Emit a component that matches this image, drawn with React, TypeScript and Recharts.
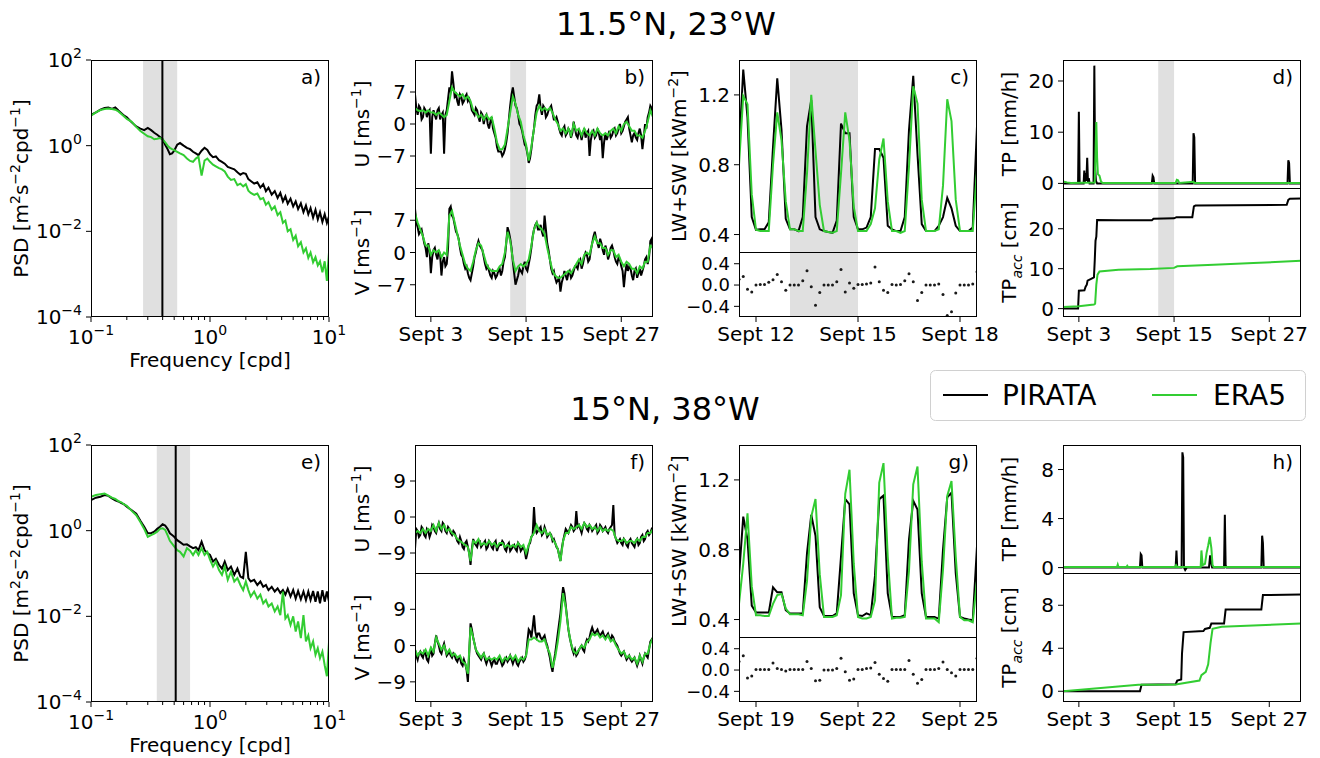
import React from 'react';
import { ComposedChart, Line, XAxis, YAxis, ReferenceArea, ReferenceLine } from 'recharts';

const FONT = 'DejaVu Sans, sans-serif';
const FS = 20;
const BLACK = '#000000';
const GREEN = '#32cd32';
const SHADE = '#e0e0e0';
const MINUS = '\u2212';

// ---------- PSD panels (a, e) ----------
const PSD_F = [0.1, 0.11, 0.12, 0.13, 0.14, 0.15, 0.16, 0.17, 0.18, 0.19, 0.2, 0.22, 0.24, 0.26, 0.28, 0.3, 0.32, 0.34, 0.36, 0.38, 0.4, 0.42, 0.44, 0.46, 0.48, 0.5, 0.53, 0.56, 0.6, 0.64, 0.68, 0.72, 0.76, 0.8, 0.85, 0.9, 0.95, 1.0, 1.06, 1.12, 1.19, 1.26, 1.33, 1.41, 1.5, 1.6, 1.7, 1.8, 1.9, 2.0, 2.1, 2.2, 2.35, 2.5, 2.65, 2.8, 2.95, 3.1, 3.3, 3.5, 3.7, 3.9, 4.1, 4.3, 4.5, 4.75, 5.0, 5.25, 5.5, 5.8, 6.1, 6.4, 6.7, 7.0, 7.35, 7.7, 8.05, 8.4, 8.8, 9.2, 9.6, 10.0];
const A_PSD_PIRATA = [5.25, 6.0, 6.9, 7.6, 7.8, 7.2, 7.8, 6.6, 5.75, 5.0, 4.6, 3.5, 2.8, 2.5, 2.3, 2.6, 2.3, 2.0, 1.8, 1.6, 1.4, 1.05, 0.83, 0.63, 0.66, 0.76, 1.05, 1.15, 1.0, 0.89, 0.83, 0.72, 0.66, 0.6, 0.76, 0.89, 0.79, 0.63, 0.54, 0.56, 0.46, 0.42, 0.38, 0.32, 0.3, 0.28, 0.24, 0.21, 0.23, 0.22, 0.166, 0.15, 0.13, 0.14, 0.105, 0.126, 0.087, 0.105, 0.072, 0.087, 0.06, 0.079, 0.05, 0.066, 0.044, 0.058, 0.038, 0.05, 0.033, 0.045, 0.028, 0.04, 0.025, 0.035, 0.021, 0.032, 0.019, 0.028, 0.0166, 0.025, 0.0158, 0.0224];
const A_PSD_ERA5 = [5.0, 6.0, 6.8, 7.2, 7.4, 7.2, 6.9, 6.3, 5.5, 4.8, 4.2, 3.6, 2.75, 2.2, 1.9, 1.66, 1.58, 1.41, 1.45, 1.51, 1.41, 1.2, 1.0, 0.89, 0.83, 0.79, 0.72, 0.66, 0.6, 0.5, 0.44, 0.42, 0.5, 0.55, 0.2, 0.45, 0.5, 0.42, 0.36, 0.33, 0.3, 0.28, 0.25, 0.19, 0.158, 0.166, 0.12, 0.13, 0.112, 0.126, 0.089, 0.079, 0.071, 0.076, 0.056, 0.06, 0.042, 0.048, 0.032, 0.038, 0.024, 0.028, 0.0158, 0.0178, 0.01, 0.0112, 0.0063, 0.0079, 0.0045, 0.0056, 0.0032, 0.004, 0.0024, 0.0032, 0.0019, 0.0025, 0.0016, 0.002, 0.0011, 0.002, 0.0007, 0.0032];
const E_PSD_PIRATA = [5.2, 5.9, 6.2, 6.8, 6.5, 5.7, 5.1, 4.8, 4.4, 4.1, 3.6, 3.0, 2.5, 1.7, 1.23, 0.87, 0.87, 0.95, 1.1, 1.23, 1.41, 1.32, 1.1, 0.87, 0.79, 0.72, 0.6, 0.54, 0.47, 0.48, 0.43, 0.39, 0.41, 0.35, 0.55, 0.35, 0.3, 0.27, 0.19, 0.22, 0.16, 0.13, 0.19, 0.12, 0.145, 0.093, 0.13, 0.085, 0.078, 0.32, 0.078, 0.065, 0.071, 0.054, 0.065, 0.049, 0.054, 0.041, 0.049, 0.038, 0.045, 0.035, 0.041, 0.032, 0.044, 0.029, 0.041, 0.026, 0.039, 0.025, 0.038, 0.024, 0.038, 0.024, 0.039, 0.022, 0.038, 0.02, 0.041, 0.022, 0.038, 0.022];
const E_PSD_ERA5 = [6.2, 6.8, 7.1, 7.4, 6.6, 5.9, 5.5, 4.9, 4.6, 4.1, 3.8, 2.9, 2.3, 1.6, 1.1, 0.72, 0.79, 0.85, 0.95, 1.1, 1.14, 1.04, 0.79, 0.58, 0.5, 0.43, 0.35, 0.32, 0.25, 0.39, 0.34, 0.27, 0.35, 0.27, 0.39, 0.27, 0.32, 0.21, 0.145, 0.19, 0.12, 0.093, 0.145, 0.071, 0.11, 0.065, 0.078, 0.054, 0.041, 0.065, 0.041, 0.029, 0.038, 0.026, 0.032, 0.02, 0.024, 0.017, 0.02, 0.013, 0.017, 0.0107, 0.038, 0.0089, 0.0107, 0.0063, 0.01, 0.0044, 0.0076, 0.0031, 0.0107, 0.0026, 0.0036, 0.0018, 0.0026, 0.00126, 0.0018, 0.00105, 0.0015, 0.00072, 0.0004, 0.0025];
const LOG_X_TICKS = [0.1, 0.2, 0.3, 0.4, 0.5, 0.6, 0.7, 0.8, 0.9, 1, 2, 3, 4, 5, 6, 7, 8, 9, 10];
const LOG_Y_TICKS = [0.0001, 0.01, 1, 100];

// ---------- wind panels (b, f): 8-hourly samples from Sept 1, PIRATA also has in-between samples ----------
const B_U_PIRATA = [6.5, 2.0, 3.5, 1.5, 3.0, 2.5, -6.5, 3.0, 1.0, 3.5, 2.0, -6.5, 3.0, 8.0, 11.5, 6.0, 5.0, 6.5, 4.5, 6.0, 5.0, 4.5, 2.5, 3.5, 1.5, 2.5, 0.0, 2.0, -1.0, 1.5, -2.0, -5.0, -6.0, -7.0, -5.5, -2.0, 4.0, 8.0, 4.0, 2.0, -0.5, -3.0, -5.0, -8.5, -5.5, -1.0, 4.0, 6.5, 2.0, 3.5, 2.0, 3.5, 2.5, 1.0, 0.5, -2.0, -1.0, -2.5, -1.0, -3.0, 0.5, -2.5, -1.5, -3.5, -1.0, -2.0, -7.0, -2.0, -3.0, -1.0, -3.5, -7.5, -2.0, -2.5, -3.0, -1.5, -2.5, -1.0, -2.0, -0.5, 1.0, -1.0, -4.0, -2.0, -3.5, -1.0, -5.5, 0.0, 1.5, 4.0, 2.0];
const B_U_PIRATA_MID = [3.5, 4.0, 1.0, 3.5, 1.5, 3.0, 1.5, 2.0, 3.0, 1.0, 2.5, 2.0, 5.5, 7.0, 9.0, 6.5, 4.0, 6.0, 5.0, 6.5, 5.5, 3.0, 2.0, 3.0, 0.5, 2.0, 1.5, 0.0, 0.5, -1.0, -3.0, -6.0, -6.0, -6.5, -4.0, 1.0, 6.5, 6.0, 3.5, 0.0, -1.5, -4.5, -6.5, -7.5, -3.0, 2.0, 4.5, 3.5, 4.0, 1.5, 3.0, 4.0, 1.0, 1.5, -1.0, -2.5, -0.5, -2.0, -1.5, -2.0, -1.0, -3.0, -2.0, -2.0, -3.0, -1.5, -3.5, -1.5, -2.5, -2.0, -2.5, -4.0, -3.5, -1.5, -2.5, -1.0, -2.0, 0.0, -1.5, 0.5, 1.5, -2.5, -2.5, -3.0, -2.0, -2.5, -3.0, -1.0, 2.5, 3.5];
const B_U_ERA5 = [3.5, 3.0, 2.8, 3.0, 2.5, 3.0, 2.5, 2.5, 2.0, 2.5, 2.0, 1.5, 2.0, 5.0, 8.0, 7.0, 6.5, 6.0, 6.5, 5.5, 6.0, 5.0, 3.0, 2.5, 1.5, 2.0, 1.0, 2.0, 1.0, 1.5, -1.0, -4.0, -5.5, -5.5, -4.5, -1.0, 2.5, 6.0, 4.5, 2.0, 0.5, -2.5, -4.5, -8.0, -5.0, -1.0, 2.5, 4.0, 3.0, 3.5, 3.0, 3.5, 2.5, 1.0, 0.0, -1.5, -1.0, -2.0, -1.0, -2.5, 0.0, -1.5, -1.0, -2.5, -1.0, -2.0, -2.5, -1.5, -2.5, -1.0, -2.0, -2.5, -2.0, -2.5, -1.5, -1.0, -2.0, -0.5, -1.5, 0.0, 0.5, -0.5, -1.5, -1.5, -2.5, -2.5, -3.0, -1.5, 0.5, 3.0, 1.5];
const B_V_PIRATA = [9.5, 5.5, 4.5, 3.5, 1.0, 2.0, -4.5, 0.5, -0.5, 0.5, -5.0, -1.0, -2.5, 9.5, 8.0, 6.0, 4.0, 1.0, -1.0, -3.5, -4.5, -6.0, -3.0, 0.0, 2.5, 1.0, -1.0, -3.5, -4.0, -5.5, -4.5, -5.0, -3.5, -4.0, -1.0, 5.5, 3.0, -2.0, -7.0, -5.0, -4.0, -3.0, -3.5, -2.5, 1.0, 5.0, 6.5, 5.0, 4.5, 8.0, 2.0, -1.5, -4.5, -5.5, -6.0, -8.5, -5.5, -5.0, -4.5, -5.5, -4.0, -3.0, -2.0, -3.5, -1.0, -0.5, -1.5, 2.0, 4.5, 2.0, 3.0, 0.5, 1.5, -1.5, 1.0, 0.5, -2.0, -1.0, -3.0, -7.5, -2.5, -3.0, -5.0, -4.0, -5.5, -3.5, -4.0, -1.5, -2.5, 2.5, 0.5];
const B_V_PIRATA_MID = [6.5, 4.0, 5.0, 2.0, -1.0, 0.5, -1.0, 1.0, -1.5, -0.5, -2.0, -3.0, 1.0, 10.0, 7.5, 4.5, 3.0, -0.5, -2.5, -3.0, -5.5, -4.5, -1.0, 1.5, 1.5, 0.5, -2.5, -3.0, -5.0, -4.0, -5.5, -4.0, -5.0, -2.0, 2.0, 4.5, 1.0, -4.5, -6.0, -3.5, -4.5, -2.0, -4.0, -1.0, 3.5, 6.0, 5.0, 6.0, 3.5, 5.0, 0.5, -3.5, -4.0, -6.5, -5.5, -6.5, -4.0, -6.0, -4.0, -5.0, -3.0, -3.5, -1.5, -2.5, 0.0, -2.0, 0.5, 3.5, 3.0, 1.0, 2.0, -0.5, 0.5, -0.5, 1.5, -1.0, -2.5, -1.5, -4.0, -4.5, -4.0, -3.5, -6.0, -3.5, -4.5, -5.0, -3.0, -1.0, -1.0, 3.0];
const B_V_ERA5 = [8.5, 6.5, 5.0, 3.5, 1.5, 1.5, -0.5, 0.5, 0.0, 0.5, -1.0, 0.0, -0.5, 8.0, 9.0, 6.5, 4.0, 1.5, -0.5, -2.5, -3.5, -4.0, -2.0, 0.5, 2.0, 1.5, -0.5, -2.5, -3.5, -4.0, -4.0, -4.0, -3.0, -2.5, 0.0, 4.5, 2.5, -1.5, -4.0, -3.0, -2.5, -3.0, -2.5, -1.5, 1.5, 5.0, 6.5, 5.5, 5.0, 4.0, 1.0, -1.5, -4.0, -5.0, -5.5, -5.5, -5.0, -4.5, -4.0, -4.5, -3.5, -2.5, -1.5, -2.5, -0.5, 0.0, -0.5, 2.0, 3.5, 2.0, 2.0, 1.0, 1.0, -0.5, 0.5, 0.5, -1.0, -0.5, -2.0, -3.0, -2.0, -2.5, -3.5, -3.5, -4.5, -3.0, -3.5, -2.0, -2.0, 1.5, 1.0];
const F_U_PIRATA = [-8.0, -3.5, -4.5, -3.0, -5.0, -3.5, -4.0, -2.5, -4.0, -1.5, -3.5, -2.0, -4.0, -3.0, -4.5, -4.0, -6.0, -5.0, -7.5, -6.5, -7.5, -12.0, -5.5, -7.0, -6.0, -7.5, -6.5, -8.0, -6.0, -7.5, -6.5, -8.5, -7.0, -6.0, -8.0, -7.0, -8.5, -7.5, -8.0, -6.5, -8.5, -7.5, -10.5, -7.0, -5.0, 2.5, -4.0, -3.0, -4.5, -2.5, -5.0, -4.0, -6.0, -6.5, -8.0, -11.0, -6.0, -3.0, -4.0, -2.0, -3.5, 1.5, -2.0, -4.0, -1.5, -3.0, -2.0, -3.5, -2.5, -4.0, -2.0, -3.5, -2.5, -4.0, -2.5, 3.0, -5.5, -6.0, -6.5, -5.5, -7.0, -6.0, -6.5, -7.5, -5.5, -6.5, -4.5, -5.5, -3.5, -4.0, -2.5];
const F_U_PIRATA_MID = [-3.0, -5.0, -2.5, -4.5, -3.0, -5.0, -2.0, -3.5, -2.5, -3.0, -1.5, -3.5, -2.5, -4.0, -3.5, -5.0, -6.5, -6.0, -8.0, -6.0, -9.0, -8.0, -6.5, -7.5, -6.0, -7.0, -6.0, -7.5, -6.5, -8.0, -6.0, -7.5, -7.0, -6.5, -8.5, -6.5, -8.0, -7.0, -8.5, -7.0, -8.0, -8.5, -9.0, -6.5, -4.5, -3.0, -3.5, -2.5, -4.0, -3.5, -4.5, -4.5, -5.5, -7.5, -9.5, -8.0, -4.5, -3.5, -3.0, -2.5, -3.0, -2.5, -3.0, -2.5, -2.0, -3.5, -2.5, -3.0, -2.0, -3.5, -2.5, -3.0, -3.5, -3.0, -2.0, -4.5, -6.5, -5.5, -7.0, -6.0, -7.5, -5.5, -7.0, -6.0, -7.0, -5.0, -6.0, -4.0, -4.5, -3.0];
const F_U_ERA5 = [-4.0, -3.5, -4.0, -3.0, -4.0, -3.0, -3.5, -2.0, -3.5, -1.5, -3.0, -2.0, -3.5, -3.0, -4.0, -4.5, -5.5, -6.0, -6.5, -7.0, -7.5, -11.0, -6.0, -6.5, -5.5, -7.0, -6.5, -7.0, -6.0, -7.0, -6.5, -7.5, -6.5, -6.5, -7.5, -7.0, -7.5, -7.0, -7.5, -6.5, -7.5, -7.0, -9.0, -7.0, -5.0, -4.0, -2.0, -3.5, -4.0, -3.0, -4.5, -4.0, -5.5, -6.5, -8.0, -11.0, -6.0, -4.0, -4.0, -2.5, -3.0, -2.5, -2.0, -3.0, -1.5, -2.5, -2.0, -3.0, -2.5, -3.5, -2.5, -3.5, -3.0, -3.5, -3.0, -3.5, -5.5, -6.0, -6.0, -5.5, -6.5, -6.0, -6.0, -6.5, -5.5, -6.0, -5.0, -5.0, -4.0, -4.0, -3.0];
const F_V_PIRATA = [-1.0, -3.5, -1.5, -3.0, -2.0, -4.0, -1.0, -2.0, 2.5, 0.0, -2.0, 0.5, -2.5, -1.5, -3.0, -2.5, -4.0, -3.0, -5.0, -4.5, -9.0, 5.5, 2.0, -1.0, -2.5, -3.5, -2.0, -4.5, -3.0, -5.0, -3.5, -4.5, -3.0, -5.0, -3.5, -4.0, -2.5, -4.5, -3.0, -5.0, -3.5, -4.0, -2.5, 4.0, 2.0, 7.5, 2.0, 3.0, 1.5, 2.5, 0.0, -3.0, -6.5, -2.0, 3.0, 8.0, 14.5, 10.0, 4.0, 0.5, -2.0, -2.5, -1.0, 0.0, -1.5, 1.5, 2.0, 4.5, 3.0, 4.0, 2.5, 3.5, 2.0, 3.0, 1.5, 2.0, 0.5, -1.0, -2.5, -1.5, -3.5, -2.5, -4.0, -3.0, -5.0, -2.5, -4.5, -2.0, -3.0, 1.0, 2.0];
const F_V_PIRATA_MID = [-2.5, -2.0, -2.5, -1.5, -3.5, -2.0, -2.5, 0.5, 1.0, -1.5, -0.5, -1.0, -2.0, -2.5, -2.0, -3.5, -3.0, -4.5, -3.5, -6.0, -2.0, 4.0, 0.5, -2.0, -3.0, -2.5, -3.5, -3.5, -4.0, -4.0, -4.5, -3.5, -4.0, -4.5, -3.0, -3.5, -3.5, -3.5, -4.5, -4.0, -3.0, -3.5, 1.0, 3.5, 4.5, 3.5, 3.0, 2.0, 2.0, 1.0, -1.5, -5.0, -4.0, 0.5, 5.5, 11.5, 13.0, 7.0, 2.0, -1.0, -1.0, -2.0, -0.5, -1.0, 0.5, 1.0, 3.5, 3.5, 3.5, 3.0, 3.0, 2.5, 2.5, 2.0, 2.5, 1.0, 0.0, -2.0, -2.0, -2.5, -3.0, -3.5, -3.5, -4.0, -4.0, -3.5, -3.0, -2.5, -1.0, 1.5];
const F_V_ERA5 = [-1.0, -2.5, -1.5, -2.0, -1.0, -2.5, -0.5, -1.5, 2.0, 0.5, -1.0, 0.0, -2.0, -1.0, -2.5, -2.0, -3.0, -2.5, -4.0, -4.5, -7.0, 4.5, 2.0, -1.0, -2.0, -3.0, -2.0, -3.5, -3.0, -3.5, -3.0, -3.5, -2.5, -4.0, -3.0, -3.5, -2.5, -3.5, -2.5, -4.0, -3.0, -3.5, -2.5, 1.5, 1.5, 2.0, 1.5, 1.0, 1.0, 1.5, -0.5, -2.0, -5.5, -3.0, 1.0, 6.0, 13.0, 9.5, 4.0, 0.5, -1.5, -2.0, -1.0, 0.0, -0.5, 1.0, 1.5, 3.0, 2.5, 3.0, 2.0, 2.5, 1.5, 2.5, 1.0, 1.5, 0.0, -1.0, -2.0, -1.5, -3.0, -2.5, -3.5, -3.0, -4.5, -2.5, -4.0, -2.0, -2.0, 0.5, 2.0];

// ---------- radiation panels (c, g): 3-hourly samples ----------
const C_PIRATA = [0.88, 1.345, 1.07, 0.5, 0.427, 0.43, 0.43, 0.47, 0.9, 1.295, 1.0, 0.49, 0.43, 0.43, 0.42, 0.5, 1.02, 1.17, 0.5, 0.43, 0.42, 0.415, 0.41, 0.48, 1.036, 0.98, 0.98, 0.5, 0.43, 0.43, 0.44, 0.5, 0.89, 0.89, 0.84, 0.45, 0.43, 0.42, 0.42, 0.5, 1.0, 1.31, 0.86, 0.46, 0.42, 0.42, 0.42, 0.45, 0.5, 0.61, 0.55, 0.45, 0.42, 0.42, 0.42, 0.44, 1.02];
const C_ERA5 = [0.8, 1.194, 1.147, 0.63, 0.427, 0.42, 0.42, 0.42, 0.8, 1.1, 0.94, 0.59, 0.43, 0.43, 0.42, 0.42, 0.75, 1.2, 0.88, 0.57, 0.42, 0.415, 0.41, 0.42, 0.75, 1.1, 0.94, 0.56, 0.42, 0.42, 0.42, 0.46, 0.55, 0.83, 0.95, 0.59, 0.42, 0.42, 0.41, 0.42, 0.79, 1.25, 1.15, 0.6, 0.42, 0.42, 0.42, 0.43, 0.68, 1.175, 1.05, 0.6, 0.42, 0.42, 0.42, 0.42, 0.77];
const C_DIFF = [0.11, 0.16, -0.08, -0.13, 0, 0.01, 0.01, 0.05, 0.1, 0.2, 0.06, -0.1, 0, 0, 0, 0.08, 0.27, -0.03, -0.38, -0.14, 0, 0, 0, 0.06, 0.29, -0.13, 0.04, -0.06, 0.01, 0.01, 0.02, 0.04, 0.34, 0.06, -0.1, -0.14, 0.01, 0, 0.01, 0.08, 0.21, 0.06, -0.29, -0.14, 0, 0, 0, 0.02, -0.18, -0.57, -0.5, -0.15, 0, 0, 0, 0.02, 0.25];
const G_PIRATA = [0.65, 0.99, 0.86, 0.48, 0.44, 0.44, 0.44, 0.44, 0.585, 0.556, 0.556, 0.454, 0.435, 0.435, 0.435, 0.435, 0.78, 1.0, 0.88, 0.47, 0.42, 0.42, 0.42, 0.435, 0.76, 1.09, 1.06, 0.55, 0.425, 0.42, 0.435, 0.425, 0.65, 1.09, 1.11, 0.55, 0.415, 0.415, 0.415, 0.425, 0.86, 1.08, 1.03, 0.55, 0.415, 0.415, 0.415, 0.404, 0.8, 1.1, 1.127, 0.665, 0.415, 0.406, 0.4, 0.396, 0.82];
const G_ERA5 = [0.49, 0.72, 1.008, 0.59, 0.425, 0.425, 0.42, 0.42, 0.49, 0.54, 0.546, 0.463, 0.43, 0.43, 0.43, 0.425, 0.62, 0.99, 1.09, 0.66, 0.415, 0.415, 0.415, 0.425, 0.54, 1.12, 1.258, 0.72, 0.415, 0.406, 0.406, 0.415, 0.51, 1.185, 1.296, 0.76, 0.406, 0.41, 0.41, 0.415, 0.68, 1.175, 1.277, 0.73, 0.406, 0.406, 0.406, 0.385, 0.685, 1.108, 1.194, 0.76, 0.415, 0.396, 0.396, 0.385, 0.627];
const G_DIFF = [0.16, 0.27, -0.15, -0.11, 0.01, 0.01, 0.01, 0.01, 0.13, 0.03, 0.01, -0.02, 0.01, 0.01, 0.01, 0.01, 0.16, 0.03, -0.2, -0.19, 0, 0, 0, 0.03, 0.22, -0.03, -0.19, -0.17, 0.01, 0.01, 0.03, 0.04, 0.14, -0.08, -0.16, -0.21, 0.01, 0.01, 0.01, 0.01, 0.18, -0.08, -0.25, -0.18, 0.01, 0.01, 0.01, 0.03, 0.15, 0.01, -0.05, -0.11, 0.01, 0.01, 0.01, 0.01, 0.22];

// ---------- precipitation panels (d, h) ----------
const D_TP_PIRATA_T = [1, 2.9, 3.0, 3.1, 3.6, 3.68, 3.75, 3.85, 3.95, 4.05, 4.15, 4.25, 4.35, 4.85, 4.95, 5.05, 5.15, 5.3, 12.2, 12.3, 12.4, 12.5, 17.35, 17.45, 17.55, 17.65, 29.3, 29.4, 29.5, 29.6, 31];
const D_TP_PIRATA = [0, 0, 14, 0, 0, 2.5, 0.3, 2, 0.5, 5, 0.3, 1, 0, 0, 23, 3, 0.5, 0, 0, 1.5, 1.2, 0, 0, 9.8, 9, 0, 0, 4.5, 4, 0, 0];
const D_TP_ERA5_T = [1, 1.5, 2, 5.0, 5.1, 5.2, 5.3, 5.4, 5.6, 5.8, 6.0, 15.2, 15.35, 15.5, 15.65, 17.45, 17.55, 17.65, 31];
const D_TP_ERA5 = [0.4, 0.2, 0.1, 0.15, 6, 12, 5, 1.8, 1.5, 0.3, 0.1, 0.1, 0.7, 0.6, 0.1, 0.3, 0.1, 0.1, 0.1];
const D_ACC_PIRATA_T = [1, 2.9, 3.0, 3.7, 3.85, 4.0, 4.1, 4.6, 4.9, 5.0, 5.1, 5.2, 5.3, 8, 12.2, 12.4, 15.0, 15.3, 17.3, 17.5, 17.7, 29.2, 29.4, 29.6, 31];
const D_ACC_PIRATA = [0, 0, 4.5, 4.6, 5.5, 6.0, 7.0, 7.5, 7.8, 12, 17, 18, 22.2, 22.1, 22.1, 22.5, 22.6, 22.9, 22.9, 25.6, 25.8, 26.0, 27.2, 27.5, 27.6];
const D_ACC_ERA5_T = [1, 3, 4.9, 5.05, 5.2, 5.35, 5.6, 8, 12, 15.0, 15.4, 20, 25, 31];
const D_ACC_ERA5 = [0.4, 0.6, 1.0, 1.2, 6.0, 8.5, 9.3, 9.7, 9.9, 10.2, 10.6, 11.0, 11.4, 12.0];
const H_TP_PIRATA_T = [1, 10.7, 10.8, 10.9, 11.0, 15.2, 15.3, 15.4, 15.95, 16.05, 16.15, 16.25, 16.4, 16.6, 19.4, 19.55, 19.7, 19.8, 21.3, 21.4, 21.5, 21.6, 26.0, 26.1, 26.2, 26.3, 31];
const H_TP_PIRATA = [0, 0, 1.1, 1.0, 0, 0, 1.4, 0, 0, 9.4, 9.0, 0, -0.2, 0, 0, 1.0, 0.3, 0, 0, 4.3, 0.2, 0, 0, 2.6, 2.0, 0, 0];
const H_TP_ERA5_T = [1, 7.8, 7.9, 8.0, 9.0, 9.1, 9.2, 15.1, 15.25, 15.4, 18.35, 18.45, 18.6, 18.9, 19.1, 19.3, 19.5, 19.7, 19.85, 20.0, 31];
const H_TP_ERA5 = [0.05, 0.05, 0.25, 0.05, 0.05, 0.15, 0.05, 0.05, 0.2, 0.05, 0.05, 1.4, 0.2, 0.3, 1.2, 1.8, 2.5, 1.6, 0.2, 0.05, 0.05];
const H_ACC_PIRATA_T = [1, 10.7, 10.9, 15.2, 15.4, 15.9, 16.0, 16.2, 18.7, 18.9, 19.5, 19.7, 21.3, 21.5, 26.0, 26.2, 31];
const H_ACC_PIRATA = [0, 0, 0.6, 0.65, 1.0, 1.1, 3.5, 5.5, 5.6, 5.8, 5.9, 6.3, 6.3, 7.6, 7.6, 8.95, 9.0];
const H_ACC_ERA5_T = [1, 10.5, 15.2, 18.2, 18.45, 19.0, 19.3, 19.6, 19.85, 21, 31];
const H_ACC_ERA5 = [0, 0.6, 0.62, 1.0, 1.5, 1.8, 2.5, 4.5, 5.8, 6.0, 6.3];

const SEPT_TICKS = [3, 15, 27];
const SERIES_NAMES = ['PIRATA', 'ERA5'];

// time stamps (days of September)
const WIND_T = B_U_PIRATA.map((_, i) => 1 + i / 3);
const WIND_MID_T = B_U_PIRATA_MID.map((_, i) => 1 + i / 3 + 1 / 6);
const C_T = C_PIRATA.map((_, k) => 11.5 + k / 8);
const G_T = G_PIRATA.map((_, k) => 18.5 + k / 8);

type Pt = { x: number; y: number };
const pts = (xs: number[], ys: number[]): Pt[] => ys.map((y, i) => ({ x: xs[i], y }));
const interleave = (xs: number[], ys: number[], xm: number[], ym: number[]): Pt[] => {
  const out: Pt[] = [];
  ys.forEach((y, i) => {
    out.push({ x: xs[i], y });
    if (i < ym.length) out.push({ x: xm[i], y: ym[i] });
  });
  return out;
};

const supText = (e: number) => (e < 0 ? MINUS + Math.abs(e) : String(e));
const fmtInt = (v: number) => (v < 0 ? MINUS + Math.abs(v) : String(v));
const fmt1 = (v: number) => (v < 0 ? MINUS + Math.abs(v).toFixed(1) : v.toFixed(1));
const fmtSept = (v: number) => `Sept ${v}`;

const TICK_STYLE = { fontSize: FS, fill: '#000', fontFamily: FONT };
const TICK_STYLE_SMALL = { fontSize: 18, fill: '#000', fontFamily: FONT };

const renderLogX = (props: any) => {
  const { x, y, payload } = props;
  const lg = Math.log10(payload.value);
  const major = Math.abs(lg - Math.round(lg)) < 1e-6;
  const ay = y - 10;
  return (
    <g>
      <line x1={x} x2={x} y1={ay} y2={ay + (major ? 5 : 3)} stroke="#000" strokeWidth={1} />
      {major && (
        <text x={x} y={ay + 27} textAnchor="middle" fontSize={FS} fontFamily={FONT} fill="#000">
          10<tspan dy={-9} fontSize={14}>{supText(Math.round(lg))}</tspan>
        </text>
      )}
    </g>
  );
};

const renderLogY = (props: any) => {
  const { x, y, payload } = props;
  const lg = Math.round(Math.log10(payload.value));
  return (
    <text x={x} y={y + 7} textAnchor="end" fontSize={FS} fontFamily={FONT} fill="#000">
      10<tspan dy={-9} fontSize={14}>{supText(lg)}</tspan>
    </text>
  );
};

type Series = { data: Pt[]; color: string; dots?: boolean };
type PlotProps = {
  x0: number; y0: number; x1: number; y1: number;
  xDomain: [number, number]; yDomain: [number, number];
  xTicks?: number[]; yTicks: number[];
  xLog?: boolean; yLog?: boolean;
  xFmt?: (v: number) => string; yFmt?: (v: number) => string;
  showX?: boolean; shade?: [number, number]; vline?: number; smallY?: boolean;
  series: Series[];
};

const ML = 90, MR = 45, MT = 30, MB = 40;

function Plot(p: PlotProps) {
  const W = p.x1 - p.x0 + ML + MR;
  const H = p.y1 - p.y0 + MT + MB;
  return (
    <div style={{ position: 'absolute', left: p.x0 - ML, top: p.y0 - MT, width: W, height: H }}>
      <ComposedChart width={W} height={H} margin={{ top: MT, right: MR, bottom: 0, left: 0 }}>
        <XAxis
          type="number" dataKey="x" domain={p.xDomain} scale={p.xLog ? 'log' : 'linear'} allowDataOverflow
          ticks={p.xTicks} interval={0} height={MB} axisLine={false}
          tickLine={p.showX && !p.xLog ? { stroke: '#000' } : false}
          tickSize={5} tickMargin={5}
          tick={!p.showX ? false : p.xLog ? renderLogX : TICK_STYLE}
          tickFormatter={p.xFmt}
        />
        <YAxis
          type="number" domain={p.yDomain} scale={p.yLog ? 'log' : 'linear'} allowDataOverflow
          ticks={p.yTicks} interval={0} width={ML} axisLine={false}
          tickLine={{ stroke: '#000' }} tickSize={5} tickMargin={4}
          tick={p.yLog ? renderLogY : p.smallY ? TICK_STYLE_SMALL : TICK_STYLE}
          tickFormatter={p.yFmt}
        />
        {p.shade && (
          <ReferenceArea x1={p.shade[0]} x2={p.shade[1]} fill={SHADE} fillOpacity={1} stroke="none" ifOverflow="hidden" />
        )}
        {p.series.map((s, i) =>
          s.dots ? (
            <Line key={i} data={s.data} dataKey="y" stroke="none" strokeWidth={0} isAnimationActive={false}
              dot={(d: any) => <circle key={`d${d.index}`} cx={d.cx} cy={d.cy} r={1.5} fill="#1a1a1a" />}
              activeDot={false} />
          ) : (
            <Line key={i} data={s.data} dataKey="y" type="linear" stroke={s.color} strokeWidth={2}
              dot={false} activeDot={false} isAnimationActive={false} />
          )
        )}
        {p.vline !== undefined && <ReferenceLine x={p.vline} stroke="#000" strokeWidth={2} />}
      </ComposedChart>
    </div>
  );
}

type Seg = [string, number];
function MathLabel({ x, y, segs, size = FS, rotate = 0, anchor = 'middle' }: { x: number; y: number; segs: Seg[]; size?: number; rotate?: number; anchor?: string }) {
  let cur = 0;
  return (
    <text transform={`translate(${x},${y}) rotate(${rotate})`} textAnchor={anchor as any} fontSize={size} fontFamily={FONT} fill="#000">
      {segs.map(([s, k], i) => {
        const target = k === 1 ? -0.42 * size : k === -1 ? 0.28 * size : 0;
        const dy = target - cur;
        cur = target;
        return (
          <tspan key={i} dy={dy} fontSize={k ? size * 0.7 : size} fontStyle={k === -1 ? 'italic' : 'normal'}>{s}</tspan>
        );
      })}
    </text>
  );
}

const PSD_LABEL: Seg[] = [['PSD [m', 0], ['2', 1], ['s', 0], [MINUS + '2', 1], ['cpd', 0], [MINUS + '1', 1], [']', 0]];
const U_LABEL: Seg[] = [['U [ms', 0], [MINUS + '1', 1], [']', 0]];
const V_LABEL: Seg[] = [['V [ms', 0], [MINUS + '1', 1], [']', 0]];
const R_LABEL: Seg[] = [['LW+SW [kWm', 0], [MINUS + '2', 1], [']', 0]];
const TP_LABEL: Seg[] = [['TP [mm/h]', 0]];
const ACC_LABEL: Seg[] = [['TP', 0], ['acc', -1], [' [cm]', 0]];

export default function App() {
  const rows = [
    { top: 60, bot: 317, mid: 188, midc: 252 },
    { top: 445, bot: 702, mid: 573, midc: 637 },
  ];
  const r1 = rows[0], r2 = rows[1];
  const black = (xs: number[], ys: number[]): Series => ({ data: pts(xs, ys), color: BLACK });
  const green = (xs: number[], ys: number[]): Series => ({ data: pts(xs, ys), color: GREEN });
  const blackFine = (ys: number[], ym: number[]): Series => ({ data: interleave(WIND_T, ys, WIND_MID_T, ym), color: BLACK });

  return (
    <div style={{ position: 'absolute', left: 0, top: 0, width: 1320, height: 758, background: '#fff', overflow: 'hidden', fontFamily: FONT }}>
      {/* Row 1 */}
      <Plot x0={91} y0={r1.top} x1={329} y1={r1.bot} xLog yLog xDomain={[0.1, 10]} yDomain={[0.0001, 100]}
        xTicks={LOG_X_TICKS} yTicks={LOG_Y_TICKS} showX shade={[0.274, 0.53]} vline={0.398}
        series={[black(PSD_F, A_PSD_PIRATA), green(PSD_F, A_PSD_ERA5)]} />
      <Plot x0={415} y0={r1.top} x1={653} y1={r1.mid} xDomain={[1, 31]} yDomain={[-14, 14]} xTicks={SEPT_TICKS}
        yTicks={[-7, 0, 7]} yFmt={fmtInt} shade={[13, 15]}
        series={[blackFine(B_U_PIRATA, B_U_PIRATA_MID), green(WIND_T, B_U_ERA5)]} />
      <Plot x0={415} y0={r1.mid} x1={653} y1={r1.bot} xDomain={[1, 31]} yDomain={[-14, 14]} xTicks={SEPT_TICKS}
        xFmt={fmtSept} showX yTicks={[-7, 0, 7]} yFmt={fmtInt} shade={[13, 15]}
        series={[blackFine(B_V_PIRATA, B_V_PIRATA_MID), green(WIND_T, B_V_ERA5)]} />
      <Plot x0={739} y0={r1.top} x1={977} y1={r1.midc} xDomain={[11.5, 18.5]} yDomain={[0.3, 1.4]} xTicks={[12, 15, 18]}
        yTicks={[0.4, 0.8, 1.2]} yFmt={fmt1} shade={[13, 15]}
        series={[black(C_T, C_PIRATA), green(C_T, C_ERA5)]} />
      <Plot x0={739} y0={r1.midc} x1={977} y1={r1.bot} xDomain={[11.5, 18.5]} yDomain={[-0.6, 0.62]} xTicks={[12, 15, 18]}
        xFmt={fmtSept} showX yTicks={[-0.4, 0, 0.4]} yFmt={fmt1} shade={[13, 15]} smallY
        series={[{ data: pts(C_T, C_DIFF), color: BLACK, dots: true }]} />
      <Plot x0={1063} y0={r1.top} x1={1301} y1={r1.mid} xDomain={[1, 31]} yDomain={[-0.9, 24.1]} xTicks={SEPT_TICKS}
        yTicks={[0, 10, 20]} yFmt={fmtInt} shade={[13, 15]}
        series={[black(D_TP_PIRATA_T, D_TP_PIRATA), green(D_TP_ERA5_T, D_TP_ERA5)]} />
      <Plot x0={1063} y0={r1.mid} x1={1301} y1={r1.bot} xDomain={[1, 31]} yDomain={[-2.1, 30.2]} xTicks={SEPT_TICKS}
        xFmt={fmtSept} showX yTicks={[0, 10, 20]} yFmt={fmtInt} shade={[13, 15]}
        series={[black(D_ACC_PIRATA_T, D_ACC_PIRATA), green(D_ACC_ERA5_T, D_ACC_ERA5)]} />

      {/* Row 2 */}
      <Plot x0={91} y0={r2.top} x1={329} y1={r2.bot} xLog yLog xDomain={[0.1, 10]} yDomain={[0.0001, 100]}
        xTicks={LOG_X_TICKS} yTicks={LOG_Y_TICKS} showX shade={[0.357, 0.68]} vline={0.515}
        series={[black(PSD_F, E_PSD_PIRATA), green(PSD_F, E_PSD_ERA5)]} />
      <Plot x0={415} y0={r2.top} x1={653} y1={r2.mid} xDomain={[1, 31]} yDomain={[-14, 18]} xTicks={SEPT_TICKS}
        yTicks={[-9, 0, 9]} yFmt={fmtInt}
        series={[blackFine(F_U_PIRATA, F_U_PIRATA_MID), green(WIND_T, F_U_ERA5)]} />
      <Plot x0={415} y0={r2.mid} x1={653} y1={r2.bot} xDomain={[1, 31]} yDomain={[-14, 18]} xTicks={SEPT_TICKS}
        xFmt={fmtSept} showX yTicks={[-9, 0, 9]} yFmt={fmtInt}
        series={[blackFine(F_V_PIRATA, F_V_PIRATA_MID), green(WIND_T, F_V_ERA5)]} />
      <Plot x0={739} y0={r2.top} x1={977} y1={r2.midc} xDomain={[18.5, 25.5]} yDomain={[0.3, 1.4]} xTicks={[19, 22, 25]}
        yTicks={[0.4, 0.8, 1.2]} yFmt={fmt1}
        series={[black(G_T, G_PIRATA), green(G_T, G_ERA5)]} />
      <Plot x0={739} y0={r2.midc} x1={977} y1={r2.bot} xDomain={[18.5, 25.5]} yDomain={[-0.6, 0.62]} xTicks={[19, 22, 25]}
        xFmt={fmtSept} showX yTicks={[-0.4, 0, 0.4]} yFmt={fmt1} smallY
        series={[{ data: pts(G_T, G_DIFF), color: BLACK, dots: true }]} />
      <Plot x0={1063} y0={r2.top} x1={1301} y1={r2.mid} xDomain={[1, 31]} yDomain={[-0.44, 10]} xTicks={SEPT_TICKS}
        yTicks={[0, 4, 8]} yFmt={fmtInt}
        series={[black(H_TP_PIRATA_T, H_TP_PIRATA), green(H_TP_ERA5_T, H_TP_ERA5)]} />
      <Plot x0={1063} y0={r2.mid} x1={1301} y1={r2.bot} xDomain={[1, 31]} yDomain={[-1, 11]} xTicks={SEPT_TICKS}
        xFmt={fmtSept} showX yTicks={[0, 4, 8]} yFmt={fmtInt}
        series={[black(H_ACC_PIRATA_T, H_ACC_PIRATA), green(H_ACC_ERA5_T, H_ACC_ERA5)]} />

      {/* Overlay: frames, labels, titles, legend */}
      <svg width={1320} height={758} style={{ position: 'absolute', left: 0, top: 0, pointerEvents: 'none' }}>
        {rows.map((r, ri) => (
          <g key={ri} fill="none" stroke="#000" strokeWidth={1}>
            <rect x={91.5} y={r.top + 0.5} width={237} height={r.bot - r.top - 1} />
            <rect x={415.5} y={r.top + 0.5} width={237} height={r.mid - r.top} />
            <rect x={415.5} y={r.mid + 0.5} width={237} height={r.bot - r.mid - 1} />
            <rect x={739.5} y={r.top + 0.5} width={237} height={r.midc - r.top} />
            <rect x={739.5} y={r.midc + 0.5} width={237} height={r.bot - r.midc - 1} />
            <rect x={1063.5} y={r.top + 0.5} width={237} height={r.mid - r.top} />
            <rect x={1063.5} y={r.mid + 0.5} width={237} height={r.bot - r.mid - 1} />
          </g>
        ))}

        <text x={666} y={35} textAnchor="middle" fontSize={32} fontFamily={FONT} fill="#000">11.5°N, 23°W</text>
        <text x={665} y={420} textAnchor="middle" fontSize={32} fontFamily={FONT} fill="#000">15°N, 38°W</text>

        {rows.map((r, ri) => (
          <g key={`l${ri}`}>
            <MathLabel x={28} y={(r.top + r.bot) / 2} segs={PSD_LABEL} rotate={-90} />
            <MathLabel x={369} y={(r.top + r.mid) / 2} segs={U_LABEL} rotate={-90} />
            <MathLabel x={369} y={(r.mid + r.bot) / 2} segs={V_LABEL} rotate={-90} />
            <MathLabel x={686} y={(r.top + r.midc) / 2} segs={R_LABEL} rotate={-90} />
            <MathLabel x={1016} y={(r.top + r.mid) / 2} segs={TP_LABEL} rotate={-90} />
            <MathLabel x={1016} y={(r.mid + r.bot) / 2} segs={ACC_LABEL} rotate={-90} />
            <text x={210} y={r.bot + 50} textAnchor="middle" fontSize={FS} fontFamily={FONT} fill="#000">Frequency [cpd]</text>
            {(ri === 0 ? ['a)', 'b)', 'c)', 'd)'] : ['e)', 'f)', 'g)', 'h)']).map((t, j) => (
              <text key={t} x={[321, 645, 969, 1293][j]} y={r.top + 24} textAnchor="end" fontSize={FS} fontFamily={FONT} fill="#000">{t}</text>
            ))}
          </g>
        ))}

        <g>
          <rect x={930.5} y={370.5} width={375} height={50} rx={5} fill="#fff" stroke="#d0d0d0" strokeWidth={1} />
          <line x1={943} x2={988} y1={395} y2={395} stroke={BLACK} strokeWidth={2} />
          <text x={1002} y={405} fontSize={28} fontFamily={FONT} fill="#000">{SERIES_NAMES[0]}</text>
          <line x1={1152} x2={1197} y1={395} y2={395} stroke={GREEN} strokeWidth={2} />
          <text x={1213} y={405} fontSize={28} fontFamily={FONT} fill="#000">{SERIES_NAMES[1]}</text>
        </g>
      </svg>
    </div>
  );
}
